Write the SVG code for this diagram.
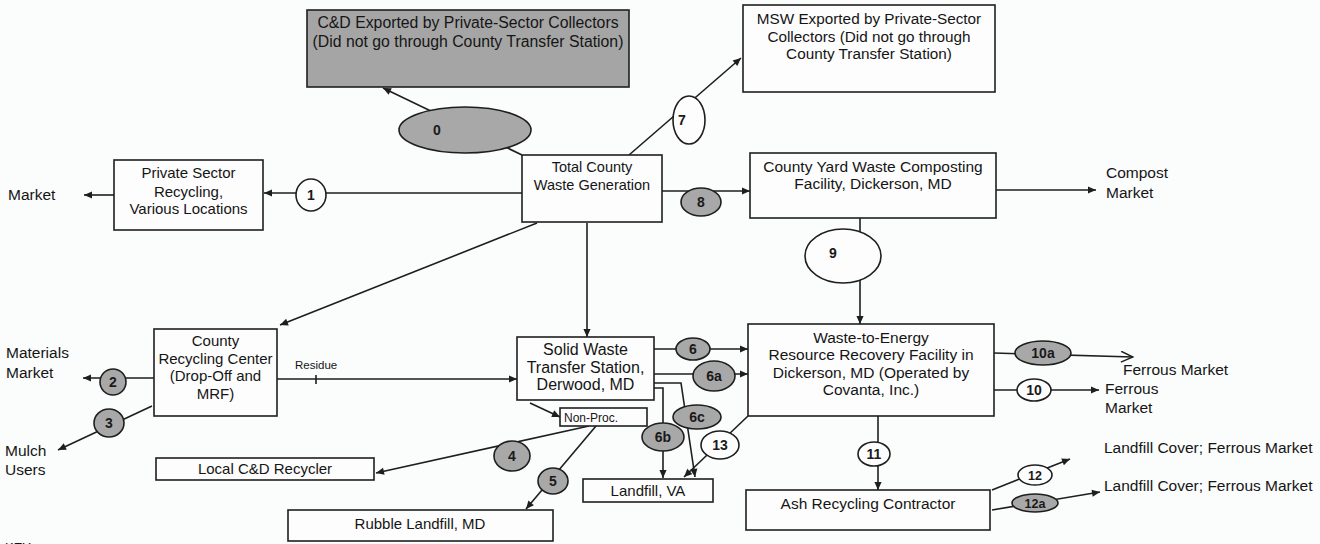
<svg xmlns="http://www.w3.org/2000/svg" width="1320" height="544" viewBox="0 0 1320 544">
<defs>
<marker id="ah" viewBox="0 0 10 10" refX="10" refY="5" markerWidth="9" markerHeight="8" markerUnits="userSpaceOnUse" orient="auto"><path d="M0,0.5 L10,5 L0,9.5 z" fill="#1e1e1e"/></marker>
<marker id="oa" viewBox="0 0 10 10" refX="10" refY="5" markerWidth="14" markerHeight="12" markerUnits="userSpaceOnUse" orient="auto"><path d="M0,0.5 L10,5 L0,9.5" fill="none" stroke="#1e1e1e" stroke-width="1.2"/></marker>
<style>
.bx{fill:#fdfdfd;stroke:#1e1e1e;stroke-width:1.6}
.gbx{fill:#a5a5a5;stroke:#1e1e1e;stroke-width:1.6}
.t{font-family:"Liberation Sans",Arial,sans-serif;font-size:15px;fill:#151515;text-anchor:middle}
.s{font-family:"Liberation Sans",Arial,sans-serif;font-size:15.5px;fill:#151515}
.sm{font-family:"Liberation Sans",Arial,sans-serif;font-size:12px;fill:#151515}
.w{fill:#fdfdfd;stroke:#1e1e1e;stroke-width:1.6}
.g{fill:#a8a8a8;stroke:#1e1e1e;stroke-width:1.6}
.n{font-family:"Liberation Sans",Arial,sans-serif;font-size:14px;font-weight:bold;fill:#1a1a1a;text-anchor:middle}
.c{fill:none;stroke:#1e1e1e;stroke-width:1.6}
</style>
</defs>
<rect width="1320" height="544" fill="#fbfcfc"/>

<g id="connectors">
<line class="c" x1="522" y1="155" x2="383" y2="88" marker-end="url(#ah)"/>
<line class="c" x1="522" y1="193" x2="264" y2="193" marker-end="url(#ah)"/>
<line class="c" x1="114" y1="195" x2="84" y2="195" marker-end="url(#ah)"/>
<line class="c" x1="629" y1="155" x2="741" y2="58" marker-end="url(#ah)"/>
<line class="c" x1="662" y1="191" x2="750" y2="191" marker-end="url(#ah)"/>
<line class="c" x1="996" y1="190" x2="1096" y2="190" marker-end="url(#ah)"/>
<line class="c" x1="860" y1="218" x2="860" y2="324" marker-end="url(#ah)"/>
<line class="c" x1="537" y1="223" x2="280" y2="325" marker-end="url(#ah)"/>
<line class="c" x1="587" y1="223" x2="587" y2="337" marker-end="url(#ah)"/>
<line class="c" x1="154" y1="378" x2="83" y2="378" marker-end="url(#ah)"/>
<line class="c" x1="152" y1="406" x2="58" y2="450" marker-end="url(#ah)"/>
<line class="c" x1="277" y1="379" x2="517" y2="379" marker-end="url(#ah)"/>
<line class="c" x1="316" y1="375" x2="316" y2="384"/>
<line class="c" x1="654" y1="349" x2="748" y2="349" marker-end="url(#ah)"/>
<line class="c" x1="654" y1="374" x2="748" y2="374" marker-end="url(#ah)"/>
<polyline class="c" points="654,383 681,383 695,477" marker-end="url(#ah)"/>
<polyline class="c" points="654,388 663,388 663,478" marker-end="url(#ah)"/>
<line class="c" x1="748" y1="416" x2="684" y2="477" marker-end="url(#ah)"/>
<line class="c" x1="530" y1="403" x2="560" y2="417" marker-end="url(#ah)"/>
<line class="c" x1="589" y1="426" x2="376" y2="473" marker-end="url(#ah)"/>
<line class="c" x1="596" y1="426" x2="526" y2="509" marker-end="url(#ah)"/>
<line class="c" x1="994" y1="353" x2="1133" y2="357" marker-end="url(#oa)"/>
<line class="c" x1="994" y1="390" x2="1099" y2="390" marker-end="url(#ah)"/>
<line class="c" x1="878" y1="416" x2="878" y2="490" marker-end="url(#ah)"/>
<line class="c" x1="992" y1="490" x2="1070" y2="459" marker-end="url(#ah)"/>
<line class="c" x1="992" y1="510" x2="1100" y2="492" marker-end="url(#ah)"/>
</g>

<g id="cd-exported">
<rect class="gbx" x="307" y="10" width="322" height="77"/>
<text class="t" x="468" y="28" style="font-size:15.8px">C&amp;D Exported by Private-Sector Collectors</text>
<text class="t" x="468" y="47" style="font-size:15.8px">(Did not go through County Transfer Station)</text>
</g>
<g id="msw-exported">
<rect class="bx" x="743" y="5" width="252" height="87"/>
<text class="t" x="869" y="24" style="font-size:15.3px">MSW Exported by Private-Sector</text>
<text class="t" x="869" y="42" style="font-size:15.3px">Collectors (Did not go through</text>
<text class="t" x="869" y="59" style="font-size:15.3px">County Transfer Station)</text>
</g>
<g id="private-sector">
<rect class="bx" x="114" y="160" width="149" height="70"/>
<text class="t" x="188.5" y="178">Private Sector</text>
<text class="t" x="188.5" y="197">Recycling,</text>
<text class="t" x="188.5" y="214">Various Locations</text>
</g>
<g id="total-county">
<rect class="bx" x="522" y="155" width="140" height="67"/>
<text class="t" x="592" y="172" style="font-size:14.5px">Total County</text>
<text class="t" x="592" y="190" style="font-size:14.5px">Waste Generation</text>
</g>
<g id="yard-waste">
<rect class="bx" x="750" y="153" width="246" height="65"/>
<text class="t" x="873" y="172" style="font-size:15.5px">County Yard Waste Composting</text>
<text class="t" x="873" y="189" style="font-size:15.5px">Facility, Dickerson, MD</text>
</g>
<g id="recycling-center">
<rect class="bx" x="154" y="329" width="123" height="87"/>
<text class="t" x="215.5" y="346">County</text>
<text class="t" x="215.5" y="364">Recycling Center</text>
<text class="t" x="215.5" y="381">(Drop-Off and</text>
<text class="t" x="215.5" y="399">MRF)</text>
</g>
<g id="transfer-station">
<rect class="bx" x="517" y="337" width="137" height="63"/>
<text class="t" x="585.5" y="355" style="font-size:16px">Solid Waste</text>
<text class="t" x="585.5" y="373" style="font-size:16px">Transfer Station,</text>
<text class="t" x="585.5" y="390" style="font-size:16px">Derwood, MD</text>
</g>
<g id="non-proc">
<rect class="bx" x="560" y="408" width="87" height="18"/>
<text class="sm" x="564" y="422">Non-Proc.</text>
</g>
<g id="wte">
<rect class="bx" x="748" y="324" width="246" height="92"/>
<text class="t" x="871" y="343" style="font-size:15.5px">Waste-to-Energy</text>
<text class="t" x="871" y="360" style="font-size:15.5px">Resource Recovery Facility in</text>
<text class="t" x="871" y="378" style="font-size:15.5px">Dickerson, MD (Operated by</text>
<text class="t" x="871" y="395" style="font-size:15.5px">Covanta, Inc.)</text>
</g>
<g id="ash">
<rect class="bx" x="746" y="490" width="244" height="40"/>
<text class="t" x="868" y="509" style="font-size:15.5px">Ash Recycling Contractor</text>
</g>
<g id="local-cd">
<rect class="bx" x="156" y="458" width="218" height="22"/>
<text class="t" x="265" y="474">Local C&amp;D Recycler</text>
</g>
<g id="rubble">
<rect class="bx" x="288" y="510" width="265" height="31"/>
<text class="t" x="420" y="529">Rubble Landfill, MD</text>
</g>
<g id="landfill-va">
<rect class="bx" x="583" y="479" width="130" height="23"/>
<text class="t" x="648" y="496">Landfill, VA</text>
</g>

<g id="outputs">
<text class="s" x="8" y="200">Market</text>
<text class="s" x="1106" y="178">Compost</text>
<text class="s" x="1106" y="198">Market</text>
<text class="s" x="6" y="358">Materials</text>
<text class="s" x="6" y="378">Market</text>
<text class="s" x="5" y="456">Mulch</text>
<text class="s" x="5" y="475">Users</text>
<text class="s" x="1123" y="375">Ferrous Market</text>
<text class="s" x="1105" y="394">Ferrous</text>
<text class="s" x="1105" y="413">Market</text>
<text class="s" x="1104" y="453">Landfill Cover; Ferrous Market</text>
<text class="s" x="1104" y="491">Landfill Cover; Ferrous Market</text>
<text class="sm" x="295" y="369" style="font-size:11.5px">Residue</text>
<text class="s" x="5" y="552" style="font-size:13px">KEY</text>
</g>

<g id="flow-0"><ellipse class="g" cx="465" cy="130" rx="66" ry="23"/><text class="n" x="437" y="135">0</text></g>
<g id="flow-1"><ellipse class="w" cx="311" cy="195" rx="15" ry="16"/><text class="n" x="311" y="200">1</text></g>
<g id="flow-7"><ellipse class="w" cx="689" cy="120" rx="16" ry="24"/><text class="n" x="682" y="125">7</text></g>
<g id="flow-8"><ellipse class="g" cx="701" cy="202" rx="20" ry="14"/><text class="n" x="701" y="207">8</text></g>
<g id="flow-9"><ellipse class="w" cx="843" cy="256" rx="38" ry="27"/><text class="n" x="833" y="258">9</text></g>
<g id="flow-2"><ellipse class="g" cx="113" cy="382" rx="13" ry="13"/><text class="n" x="113" y="387">2</text></g>
<g id="flow-3"><ellipse class="g" cx="109" cy="423" rx="15" ry="14"/><text class="n" x="109" y="428">3</text></g>
<g id="flow-4"><ellipse class="g" cx="512" cy="456" rx="18" ry="15"/><text class="n" x="512" y="461">4</text></g>
<g id="flow-5"><ellipse class="g" cx="553" cy="481" rx="15" ry="13"/><text class="n" x="553" y="486">5</text></g>
<g id="flow-6"><ellipse class="g" cx="693" cy="349" rx="17" ry="11"/><text class="n" x="693" y="354">6</text></g>
<g id="flow-6a"><ellipse class="g" cx="714" cy="376" rx="21" ry="15"/><text class="n" x="714" y="381">6a</text></g>
<g id="flow-6c"><ellipse class="g" cx="697" cy="417" rx="24" ry="12"/><text class="n" x="697" y="422">6c</text></g>
<g id="flow-6b"><ellipse class="g" cx="663" cy="437" rx="21" ry="14"/><text class="n" x="663" y="442">6b</text></g>
<g id="flow-13"><ellipse class="w" cx="720" cy="445" rx="19" ry="14"/><text class="n" x="720" y="450">13</text></g>
<g id="flow-10a"><ellipse class="g" cx="1043" cy="353" rx="28" ry="12"/><text class="n" x="1043" y="358">10a</text></g>
<g id="flow-10"><ellipse class="w" cx="1034" cy="390" rx="17" ry="11"/><text class="n" x="1034" y="395">10</text></g>
<g id="flow-11"><ellipse class="w" cx="874" cy="454" rx="16" ry="12"/><text class="n" x="874" y="459">11</text></g>
<g id="flow-12"><ellipse class="w" cx="1035" cy="475" rx="17" ry="10"/><text class="n" x="1035" y="480" style="font-size:12.5px">12</text></g>
<g id="flow-12a"><ellipse class="g" cx="1035" cy="503" rx="23" ry="9"/><text class="n" x="1035" y="508" style="font-size:12.5px">12a</text></g>
</svg>
